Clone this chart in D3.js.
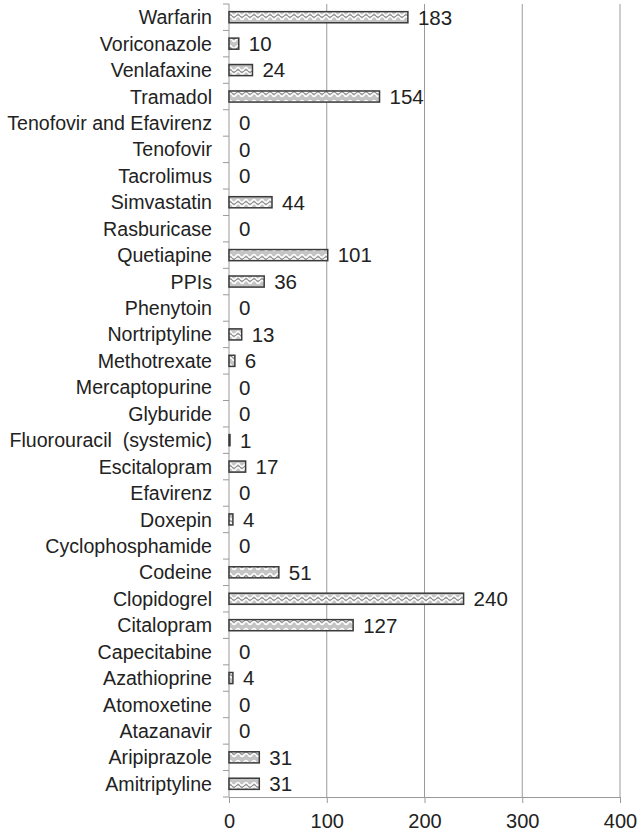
<!DOCTYPE html>
<html>
<head>
<meta charset="utf-8">
<script src="https://cdn.jsdelivr.net/npm/d3@7"></script>
<style>
body { margin: 0; background: #fff; }
svg text { font-family: "Liberation Sans", Arial, sans-serif; fill: #222; }
</style>
</head>
<body>
<div id="chartContent"></div>
<script>
//Chart data, top to bottom
var drugs = ["Warfarin", "Voriconazole", "Venlafaxine", "Tramadol", "Tenofovir and Efavirenz",
    "Tenofovir", "Tacrolimus", "Simvastatin", "Rasburicase", "Quetiapine", "PPIs", "Phenytoin",
    "Nortriptyline", "Methotrexate", "Mercaptopurine", "Glyburide", "Fluorouracil  (systemic)",
    "Escitalopram", "Efavirenz", "Doxepin", "Cyclophosphamide", "Codeine", "Clopidogrel",
    "Citalopram", "Capecitabine", "Azathioprine", "Atomoxetine", "Atazanavir", "Aripiprazole",
    "Amitriptyline"];
var counts = [183, 10, 24, 154, 0, 0, 0, 44, 0, 101, 36, 0, 13, 6, 0, 0, 1, 17, 0, 4, 0, 51,
    240, 127, 0, 4, 0, 0, 31, 31];
var xTicks = [0, 100, 200, 300, 400];

var width = 639, height = 832;
var margin = {left: 229, right: 19, top: 4, bottom: 35};

var svg = d3.select("#chartContent")
    .append("svg")
    .attr("width", width)
    .attr("height", height);

//Zigzag fill for bars
var pattern = svg.append("defs").append("pattern")
    .attr("id", "zig")
    .attr("patternUnits", "userSpaceOnUse")
    .attr("width", 8)
    .attr("height", 11)
pattern.append("rect").attr("width", 8).attr("height", 11).attr("fill", "#c4c4c4")
pattern.append("path")
    .attr("d", "M0,3 Q2,6 4,3 T8,3 M0,7 Q2,10 4,7 T8,7")
    .attr("fill", "none").attr("stroke", "#fff").attr("stroke-width", 1.6)
pattern.append("path")
    .attr("d", "M0,5 Q2,8 4,5 T8,5")
    .attr("fill", "none").attr("stroke", "#777").attr("stroke-width", 0.8)

var x = d3.scaleLinear()
    .domain([0, 400])
    .range([margin.left, width - margin.right]);

var y = d3.scaleBand()
    .domain(drugs)
    .range([margin.top, height - margin.bottom])
    .paddingInner(0.58)
    .paddingOuter(0.29);

var plotBottom = height - margin.bottom;

//Gridlines
svg.append("g")
    .selectAll("line")
    .data(xTicks.slice(1))
    .enter()
    .append("line")
    .attr("x1", d => x(d)).attr("x2", d => x(d))
    .attr("y1", margin.top).attr("y2", plotBottom)
    .attr("stroke", "#9a9a9a")
    .attr("stroke-width", 1)

//Bottom axis
var xAxis = svg.append("g")
    .attr("transform", `translate(0,${plotBottom})`)
    .call(d3.axisBottom(x).tickValues(xTicks).tickSize(6).tickPadding(11))
xAxis.select(".domain").attr("stroke", "#9a9a9a")
xAxis.selectAll(".tick line").attr("stroke", "#9a9a9a")
xAxis.selectAll("text")
    .attr("font-size", 20)
    .attr("fill", "#222")
    .style("font-family", "'Liberation Sans', Arial, sans-serif")

//Left axis with ticks on category boundaries
var bandStep = y.step();
var yAxis = svg.append("g")
    .attr("transform", `translate(${margin.left},0)`)
yAxis.append("line")
    .attr("x1", 0).attr("x2", 0)
    .attr("y1", margin.top).attr("y2", plotBottom)
    .attr("stroke", "#9a9a9a")
yAxis.selectAll(".btick")
    .data(d3.range(drugs.length + 1))
    .enter()
    .append("line")
    .attr("x1", -6).attr("x2", 0)
    .attr("y1", i => margin.top + i * bandStep)
    .attr("y2", i => margin.top + i * bandStep)
    .attr("stroke", "#9a9a9a")
yAxis.selectAll(".lbl")
    .data(drugs)
    .enter()
    .append("text")
    .attr("x", -17)
    .attr("y", d => y(d) + y.bandwidth() / 2)
    .attr("dy", "0.36em")
    .attr("text-anchor", "end")
    .attr("font-size", 19.6)
    .style("white-space", "pre")
    .text(d => d)

//Bars
svg.selectAll(".bar")
    .data(drugs)
    .enter()
    .append("rect")
    .classed("bar", true)
    .attr("x", x(0))
    .attr("y", d => y(d))
    .attr("width", (d, i) => x(counts[i]) - x(0))
    .attr("height", y.bandwidth())
    .attr("fill", "url(#zig)")
    .attr("stroke", (d, i) => counts[i] > 0 ? "#3a3a3a" : "none")
    .attr("stroke-width", 1.5)

//Value labels
svg.selectAll(".val")
    .data(drugs)
    .enter()
    .append("text")
    .attr("x", (d, i) => x(counts[i]) + 10)
    .attr("y", d => y(d) + y.bandwidth() / 2)
    .attr("dy", "0.36em")
    .attr("font-size", 20.5)
    .text((d, i) => counts[i])
</script>
</body>
</html>
